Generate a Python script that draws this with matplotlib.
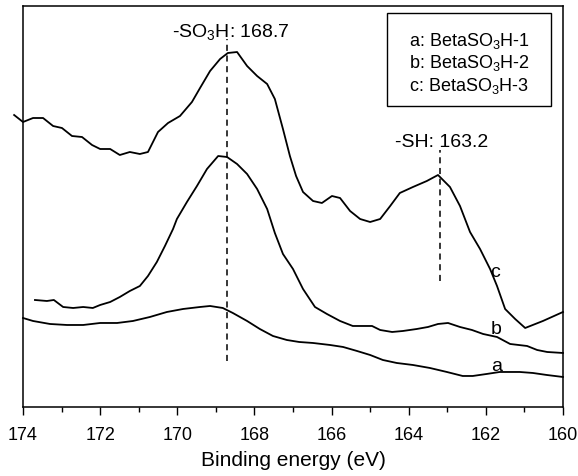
import matplotlib
matplotlib.use("Agg")
import matplotlib.pyplot as plt
from matplotlib.patches import Rectangle

plt.rcParams['font.family'] = ['Liberation Sans', 'DejaVu Sans']
plt.rcParams['mathtext.fontset'] = 'custom'
plt.rcParams['mathtext.rm'] = 'Liberation Sans'
plt.rcParams['mathtext.it'] = 'Liberation Sans:italic'

# binding energy (eV) and intensity (a.u., offset stacked)
e_c = [174.23, 174.0, 173.74, 173.48, 173.22, 172.99, 172.73, 172.47, 172.21, 172.0,
       171.74, 171.49, 171.23, 170.97, 170.76, 170.50, 170.24, 169.93, 169.62, 169.41,
       169.15, 168.89, 168.69, 168.45, 168.19, 167.93, 167.67, 167.47, 167.26, 167.08,
       166.92, 166.74, 166.48, 166.25, 165.99, 165.78, 165.52, 165.26, 165.00, 164.74,
       164.48, 164.23, 163.89, 163.53, 163.24, 162.93, 162.67, 162.41, 162.15, 161.89,
       161.71, 161.50, 161.24, 160.98, 160.52, 160.0]
i_c = [292, 285, 289, 289, 281, 279, 271, 270, 262, 258,
       258, 252, 255, 253, 255, 275, 284, 291, 305, 319,
       336, 348, 354, 355, 341, 331, 323, 308, 278, 251,
       231, 215, 206, 204, 211, 209, 196, 188, 185, 188,
       201, 214, 220, 226, 232, 220, 201, 175, 158, 138,
       121, 98, 88, 79, 86, 95]

e_b = [173.69, 173.38, 173.20, 172.96, 172.70, 172.44, 172.19, 172.0, 171.74, 171.49,
       171.23, 170.97, 170.76, 170.53, 170.32, 170.11, 170.01, 169.75, 169.49, 169.23,
       168.94, 168.71, 168.45, 168.19, 167.93, 167.67, 167.47, 167.26, 167.00, 166.74,
       166.43, 166.12, 165.78, 165.45, 165.19, 164.95, 164.74, 164.43, 164.15, 163.79,
       163.50, 163.24, 162.98, 162.67, 162.36, 162.07, 161.71, 161.37, 160.93, 160.67,
       160.41, 160.0]
i_b = [107, 106, 107, 100, 99, 100, 99, 102, 105, 110,
       116, 121, 131, 145, 161, 178, 188, 205, 221, 238,
       251, 250, 243, 233, 218, 198, 174, 153, 138, 118,
       100, 93, 86, 81, 81, 81, 77, 75, 76, 78,
       80, 83, 84, 80, 77, 73, 70, 63, 61, 57,
       55, 54]

e_a = [174.0, 173.74, 173.30, 172.86, 172.44, 172.0, 171.56, 171.15, 170.71, 170.27,
       169.85, 169.41, 169.15, 168.82, 168.56, 168.19, 167.86, 167.52, 167.16, 166.84,
       166.48, 166.04, 165.70, 165.34, 165.00, 164.67, 164.31, 163.89, 163.45, 163.01,
       162.60, 162.34, 161.98, 161.64, 161.12, 160.78, 160.42, 160.0]
i_a = [89, 86, 83, 82, 82, 84, 84, 86, 90, 95,
       98, 100, 101, 99, 94, 86, 78, 71, 67, 65,
       64, 62, 60, 56, 52, 47, 44, 42, 39, 35,
       31, 31, 33, 35, 35, 34, 32, 30]

peaks = [168.7, 163.2]
peak_names = ['-SO$_3$H: 168.7', '-SH: 163.2']
legend_lines = ['a: BetaSO$_3$H-1', 'b: BetaSO$_3$H-2', 'c: BetaSO$_3$H-3']

fig = plt.figure(figsize=(5.78, 4.77), dpi=100)
ax = fig.add_axes([0.0398, 0.1447, 0.9342, 0.8406])

for e, i in [(e_a, i_a), (e_b, i_b), (e_c, i_c)]:
    ax.plot(e, i, color='black', lw=1.3, clip_on=False)

# peak markers
ax.plot([peaks[0], peaks[0]], [46, 368], color='black', lw=1.1, ls=(0, (4, 3)))
ax.plot([peaks[1], peaks[1]], [126, 257], color='black', lw=1.1, ls=(0, (4, 3)))
ax.text(168.62, 371, peak_names[0], ha='center', va='baseline', fontsize=14)
ax.text(163.14, 261, peak_names[1], ha='center', va='baseline', fontsize=14)

# curve letters
ax.text(161.76, 135, 'c', ha='center', va='center', fontsize=14)
ax.text(161.74, 78, 'b', ha='center', va='center', fontsize=14)
ax.text(161.71, 41, 'a', ha='center', va='center', fontsize=14)

# legend box
ax.add_patch(Rectangle((0.674, 0.751), 0.304, 0.232, transform=ax.transAxes,
                       fill=False, ec='black', lw=1.0))
for yy, txt in zip([0.915, 0.860, 0.803], legend_lines):
    ax.text(0.826, yy, txt, transform=ax.transAxes, ha='center', va='center', fontsize=13)

ax.set_xlim(174, 160)
ax.set_ylim(0, 401)
ax.set_xticks([174, 172, 170, 168, 166, 164, 162, 160])
ax.set_xticks([173, 171, 169, 167, 165, 163, 161], minor=True)
ax.set_yticks([])
ax.tick_params(axis='x', which='major', direction='out', length=6, width=1.0, labelsize=13, pad=8)
ax.tick_params(axis='x', which='minor', direction='out', length=3.5, width=1.0)
for s in ax.spines.values():
    s.set_linewidth(1.1)
ax.set_xlabel('Binding energy (eV)', fontsize=15, labelpad=5)

fig.savefig('out.png', dpi=100)
